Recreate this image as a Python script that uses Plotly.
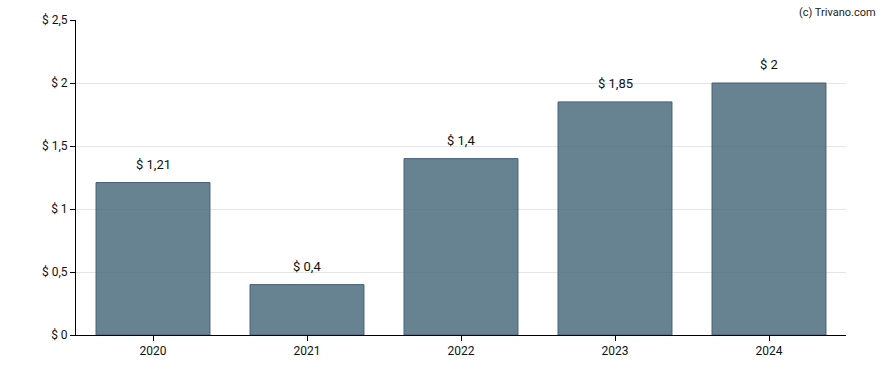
import plotly.graph_objects as go

years = ["2020", "2021", "2022", "2023", "2024"]
values = [1.21, 0.4, 1.4, 1.85, 2.0]
labels = ["$ 1,21", "$ 0,4", "$ 1,4", "$ 1,85", "$ 2"]
tick_vals = [0, 0.5, 1, 1.5, 2, 2.5]
tick_text = ["$ 0", "$ 0,5", "$ 1", "$ 1,5", "$ 2", "$ 2,5"]

fig = go.Figure()
fig.add_trace(go.Bar(
    x=years, y=values,
    marker=dict(color="rgba(65,99,116,0.8)", line=dict(color="#48627a", width=1)),
    width=0.74,
    hoverinfo="skip",
))
for i, (y, t) in enumerate(zip(values, labels)):
    fig.add_annotation(x=i, y=y, text=t, showarrow=False, yanchor="bottom", yshift=9,
                       font=dict(family="Roboto", size=13, color="#111"))

fig.add_annotation(xref="paper", yref="paper", x=1.0, y=1.0, xanchor="right", yanchor="bottom",
                   xshift=32, yshift=-1, text="(c) Trivano.com", showarrow=False,
                   font=dict(family="Roboto", size=11, color="#222"))

fig.update_layout(
    width=888, height=370,
    margin=dict(l=76, r=42, t=20, b=35),
    paper_bgcolor="white", plot_bgcolor="white",
    showlegend=False,
    font=dict(family="Roboto", size=12, color="#111"),
    xaxis=dict(type="category", range=[-0.5, len(years) - 0.5], showline=True, linecolor="#000",
               linewidth=1, ticks="outside", ticklen=5,
               tickcolor="#000", showgrid=False, tickfont=dict(size=12)),
    yaxis=dict(range=[0, 2.5], tickvals=tick_vals, ticktext=tick_text, showline=True,
               linecolor="#000", linewidth=1, ticks="outside", ticklen=5, tickcolor="#000",
               showgrid=True, gridcolor="#e6e6e6", zeroline=False, tickfont=dict(size=12)),
)
fig.write_html("out.html", config={"displayModeBar": False},
               post_script="document.body.style.margin='0';document.body.style.overflow='hidden';")
